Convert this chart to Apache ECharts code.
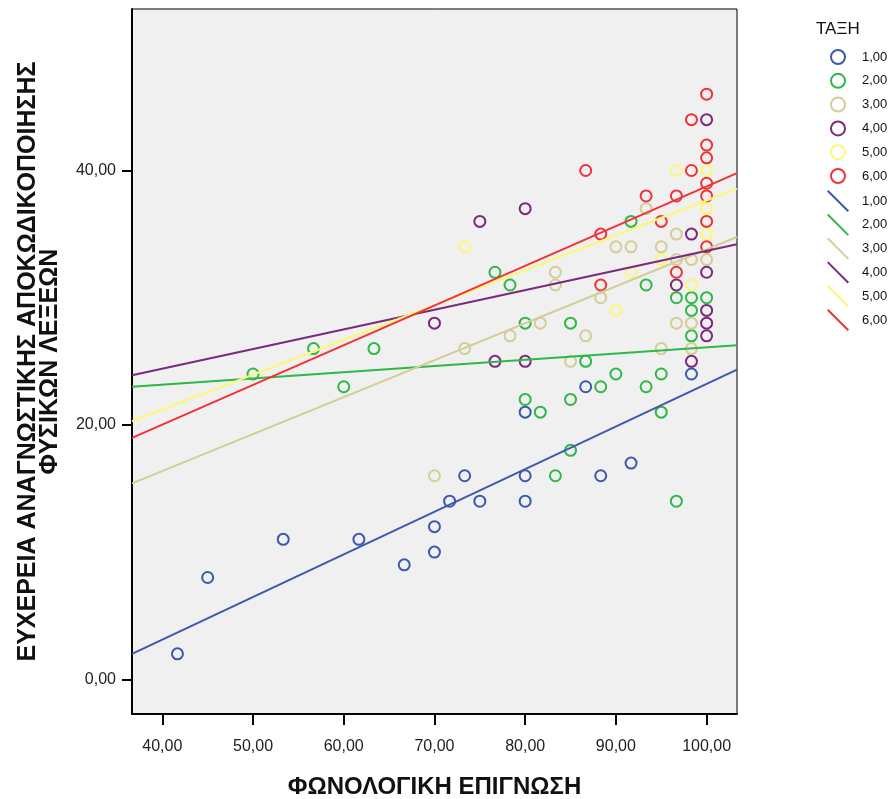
<!DOCTYPE html>
<html>
<head>
<meta charset="utf-8">
<script src="https://cdn.jsdelivr.net/npm/echarts@6/dist/echarts.min.js"></script>
<style>
html,body{margin:0;padding:0;background:#fff;}
#chart{width:890px;height:799px;}
</style>
</head>
<body>
<div id="chart"></div>
<script>
// ---- data ----
const groupNames = ['1,00', '2,00', '3,00', '4,00', '5,00', '6,00'];
const groupColors = ['#3E58AC', '#2EB848', '#D3CE97', '#7C287D', '#FBF873', '#EF3338'];

const group1 = [[41.67,2],[45,8],[53.33,11],[61.67,11],[66.67,9],[70,12],[70,10],[71.67,14],[73.33,16],[75,14],[80,16],[80,14],[80,21],[86.67,23],[88.33,16],[91.67,17],[98.33,24]];
const group2 = [[50,24],[56.67,26],[60,23],[63.33,26],[76.67,32],[78.33,31],[80,28],[80,22],[81.67,21],[83.33,16],[85,28],[85,22],[85,18],[86.67,25],[88.33,23],[90,24],[91.67,36],[93.33,31],[93.33,23],[95,24],[95,21],[96.67,30],[96.67,14],[98.33,30],[98.33,29],[98.33,27],[100,30]];
const group3 = [[70,16],[73.33,26],[78.33,27],[81.67,28],[83.33,32],[83.33,31],[85,25],[86.67,27],[88.33,30],[90,34],[91.67,34],[93.33,37],[95,34],[95,26],[96.67,35],[96.67,33],[96.67,28],[98.33,33],[98.33,28],[98.33,26],[100,33]];
const group4 = [[70,28],[75,36],[76.67,25],[80,37],[80,25],[96.67,31],[98.33,35],[98.33,25],[100,44],[100,32],[100,29],[100,28],[100,27]];
const group5 = [[73.33,34],[90,29],[91.67,32],[95,33],[96.67,40],[98.33,31],[100,40],[100,37],[100,35]];
const group6 = [[86.67,40],[88.33,35],[88.33,31],[93.33,38],[95,36],[96.67,38],[96.67,32],[98.33,44],[98.33,40],[100,46],[100,42],[100,41],[100,39],[100,38],[100,36],[100,34]];
const groups = [group1, group2, group3, group4, group5, group6];

// fit lines: value at the left edge and at the right edge of the x range
const fitX = [36.66, 103.35];
const fitStart = [1.99, 23.0, 15.4, 23.9, 20.29, 18.98];
const fitEnd = [24.35, 26.26, 34.77, 34.2, 38.57, 39.8];

const xTicks = [40, 50, 60, 70, 80, 90, 100];
const yTicks = [0, 20, 40];
const xRange = [36.66, 103.35];
const yRange = [-2.73, 52.7];

const xTitle = 'ΦΩΝΟΛΟΓΙΚΗ ΕΠΙΓΝΩΣΗ';
const yTitle = 'ΕΥΧΕΡΕΙΑ ΑΝΑΓΝΩΣΤΙΚΗΣ ΑΠΟΚΩΔΙΚΟΠΟΙΗΣΗΣ\nΦΥΣΙΚΩΝ ΛΕΞΕΩΝ';
const legendTitle = 'ΤΑΞΗ';

// ---- chart ----
const fmt = v => v.toFixed(2).replace('.', ',');
const FONT = 'Liberation Sans, Arial, sans-serif';
const lineSuffix = ' ';
const lineIcon = 'path://M0,1.4 L1.4,0 L22,20.6 L20.6,22 Z';

const series = [];
groups.forEach((g, i) => {
  series.push({
    name: groupNames[i],
    type: 'scatter',
    data: g,
    symbol: 'circle',
    symbolSize: 11,
    z: 2,
    itemStyle: { color: 'transparent', borderColor: groupColors[i], borderWidth: 2, opacity: 1 },
    emphasis: { disabled: true }
  });
});
groupNames.forEach((n, i) => {
  series.push({
    name: n + lineSuffix,
    type: 'line',
    data: [[fitX[0], fitStart[i]], [fitX[1], fitEnd[i]]],
    showSymbol: false,
    symbol: 'none',
    z: 3,
    color: groupColors[i],
    lineStyle: { color: groupColors[i], width: 2 },
    emphasis: { disabled: true }
  });
});

const chart = echarts.init(document.getElementById('chart'), null, { renderer: 'canvas' });
chart.setOption({
  animation: false,
  backgroundColor: '#ffffff',
  textStyle: { fontFamily: FONT },
  grid: {
    left: 132, right: 153, top: 9, bottom: 85,
    outerBoundsMode: 'none',
    containLabel: false,
    show: true, backgroundColor: '#f0f0f0', borderColor: '#000', borderWidth: 1
  },
  xAxis: {
    type: 'value',
    min: xRange[0], max: xRange[1],
    splitLine: { show: false },
    axisLine: { show: true, onZero: false, lineStyle: { color: '#000', width: 2 } },
    axisTick: { show: true, customValues: xTicks, length: 11, lineStyle: { color: '#000', width: 2 } },
    axisLabel: { customValues: xTicks, formatter: fmt, color: '#222', fontSize: 16, margin: 25, fontFamily: FONT },
    name: xTitle,
    nameLocation: 'middle',
    nameGap: 61,
    nameTextStyle: { fontSize: 24, fontWeight: 'bold', color: '#111', fontFamily: FONT }
  },
  yAxis: {
    type: 'value',
    min: yRange[0], max: yRange[1],
    splitLine: { show: false },
    axisLine: { show: true, onZero: false, lineStyle: { color: '#000', width: 2 } },
    axisTick: { show: true, customValues: yTicks, length: 10, lineStyle: { color: '#000', width: 2 } },
    axisLabel: { customValues: yTicks, formatter: fmt, color: '#222', fontSize: 16, margin: 16, fontFamily: FONT },
    name: yTitle,
    nameLocation: 'middle',
    nameGap: 71,
    nameTextStyle: { fontSize: 25, fontWeight: 'bold', color: '#111', lineHeight: 22, align: 'center', fontFamily: FONT }
  },
  title: {
    text: legendTitle,
    left: 811, top: 16,
    textStyle: { fontSize: 17, fontWeight: 'normal', color: '#111', fontFamily: FONT }
  },
  legend: [
    {
      orient: 'vertical',
      left: 825, top: 44,
      itemWidth: 38, itemHeight: 14, itemGap: 7.8,
      icon: 'circle',
      data: groupNames.map((n, i) => ({ name: n, itemStyle: { color: 'transparent', borderColor: groupColors[i], borderWidth: 2 } })),
      textStyle: { fontSize: 13, color: '#111', fontFamily: FONT },
      selectedMode: false
    },
    {
      orient: 'vertical',
      left: 822, top: 185,
      itemWidth: 38, itemHeight: 22, itemGap: 1.8,
      icon: lineIcon,
      data: groupNames.map((n, i) => ({ name: n + lineSuffix, itemStyle: { color: groupColors[i] } })),
      textStyle: { fontSize: 13, color: '#111', fontFamily: FONT },
      selectedMode: false
    }
  ],
  series: series
});
</script>
</body>
</html>
